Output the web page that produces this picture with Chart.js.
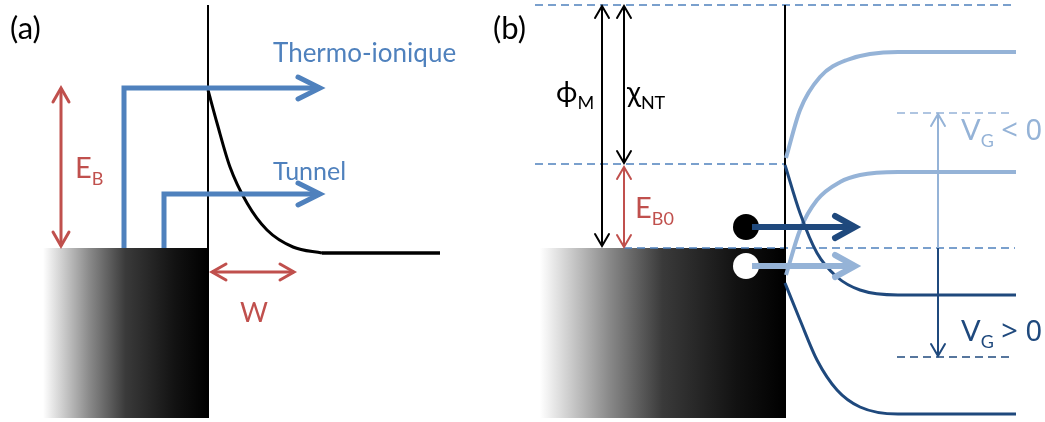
<!DOCTYPE html>
<html>
<head>
<meta charset="utf-8">
<script src="https://cdn.jsdelivr.net/npm/chart.js@4.4.1/dist/chart.umd.min.js"></script>
<style>
  html, body { margin: 0; padding: 0; background: #fff; }
  #wrap { width: 1045px; height: 422px; }
</style>
</head>
<body>
<div id="wrap"><canvas id="diagram" width="1045" height="422"></canvas></div>
<script>
const BLUE = "#4f81bd", RED = "#c0504d", DARK = "#1f497d", LIGHT = "#95b3d7";

// (a) thermo-ionic and tunnel emission
const interfaceA = [[208, 5], [208, 418]];
const metalA = [43, 248, 208, 418];
const barrierA = [[208, 90], [217, 123], [230, 167], [247, 203], [267, 230], [293, 247], [322, 253]];
const bandA = [[322, 253], [440, 253]];
const thermoPath = [[124, 248], [124, 88], [320, 88]];
const tunnelPath = [[164, 248], [164, 194], [320, 194]];
const ebArrow = [[61, 88], [61, 246]];
const wArrow = [[212, 272], [294, 272]];

// (b) band bending with gate voltage
const interfaceB = [[785, 5], [785, 418]];
const metalB = [540, 248, 785, 418];
const vacuumLevel = [[535, 5], [1015, 5]];
const chiLevel = [[535, 164], [785, 164]];
const fermiLevel = [[624, 248], [1015, 248]];
const vgNegLevel = [[897, 113], [1014, 113]];
const vgPosLevel = [[897, 357], [1014, 357]];
const phiArrow = [[602, 6], [602, 246]];
const chiArrow = [[624, 6], [624, 163]];
const eb0Arrow = [[624, 167], [624, 247]];
const lightTop = [[786, 158], [800, 110], [820, 77], [847, 60], [898, 52], [1016, 52]];
const lightBottom = [[786, 275], [800, 230], [817, 200], [840, 182], [860, 175], [898, 172], [1016, 172]];
const darkTop = [[785, 165], [800, 213], [817, 253], [837, 277], [860, 290], [898, 295], [1016, 295]];
const darkBottom = [[785, 283], [800, 320], [817, 360], [837, 390], [860, 407], [898, 414], [1016, 414]];
const electron = [[746, 227]];
const hole = [[746, 266]];
const electronArrow = [[752, 227], [855, 227]];
const holeArrow = [[752, 266], [855, 266]];
const vgUp = [[938, 248], [938, 114]];
const vgDown = [[938, 248], [938, 356]];

// text: [main, subscript, rest, x, y(baseline), colour, size]
const labels = [
  ["(a)", "", "", 10, 39, "#000", 31],
  ["Thermo-ionique", "", "", 273, 62, BLUE, 26],
  ["Tunnel", "", "", 273, 180, BLUE, 25],
  ["E", "B", "", 75, 178, RED, 29],
  ["W", "", "", 240, 322, RED, 27],
  ["(b)", "", "", 493, 39, "#000", 31],
  ["\u03D5", "M", "", 556, 102, "#000", 29],
  ["\u03C7", "NT", "", 627, 102, "#000", 29],
  ["E", "B0", "", 635, 218, RED, 29],
  ["V", "G", " < 0", 961, 140, LIGHT, 29],
  ["V", "G", " > 0", 961, 341, DARK, 29]
];

function pts(list) { return list.map(p => ({ x: p[0], y: p[1] })); }

function line(list, color, width, extra) {
  return Object.assign({
    data: pts(list), showLine: true, borderColor: color, borderWidth: width,
    pointRadius: 0, fill: false, tension: 0, borderJoinStyle: "miter", borderCapStyle: "butt"
  }, extra || {});
}

function head(tip, prev, back, half) {
  const dx = tip[0] - prev[0], dy = tip[1] - prev[1];
  const len = Math.hypot(dx, dy), ux = dx / len, uy = dy / len;
  return [[tip[0] - ux * back - uy * half, tip[1] - uy * back + ux * half], tip,
          [tip[0] - ux * back + uy * half, tip[1] - uy * back - ux * half]];
}

function arrow(path, color, width, back, half, both) {
  const n = path.length;
  const out = [line(path, color, width)];
  out.push(line(head(path[n - 1], path[n - 2], back, half), color, width, { borderCapStyle: "round" }));
  if (both) out.push(line(head(path[0], path[1], back, half), color, width, { borderCapStyle: "round" }));
  return out;
}

const dash = { borderDash: [8, 5] };
const curve = { cubicInterpolationMode: "monotone" };

const datasets = [
  line(vacuumLevel, BLUE, 1.3, dash),
  line(chiLevel, BLUE, 1.3, dash),
  line(fermiLevel, BLUE, 1.3, dash),
  line(vgNegLevel, LIGHT, 1.3, dash),
  line(vgPosLevel, DARK, 1.3, dash),
  line(interfaceA, "#000", 2),
  line(interfaceB, "#000", 2),
  line(barrierA, "#000", 3, curve),
  line(bandA, "#000", 3.5),
  ...arrow(thermoPath, BLUE, 5, 22, 11),
  ...arrow(tunnelPath, BLUE, 5, 22, 11),
  ...arrow(ebArrow, RED, 3, 14, 8, true),
  ...arrow(wArrow, RED, 3, 14, 8, true),
  ...arrow(phiArrow, "#000", 2, 12, 7, true),
  ...arrow(chiArrow, "#000", 2, 12, 7, true),
  ...arrow(eb0Arrow, RED, 2, 12, 7, true),
  line(lightTop, LIGHT, 4, curve),
  line(lightBottom, LIGHT, 4, curve),
  line(darkTop, DARK, 3, curve),
  line(darkBottom, DARK, 3, curve),
  ...arrow(vgUp, LIGHT, 2, 12, 7),
  ...arrow(vgDown, DARK, 2, 12, 7),
  { data: pts(electron), showLine: false, pointRadius: 13, pointBackgroundColor: "#000", pointBorderWidth: 0 },
  { data: pts(hole), showLine: false, pointRadius: 13, pointBackgroundColor: "#fff", pointBorderWidth: 0 },
  ...arrow(electronArrow, DARK, 6, 20, 11),
  ...arrow(holeArrow, LIGHT, 6, 20, 11)
];
datasets.forEach((d, i) => { d.order = datasets.length - i; d.clip = false; });

const metalPlugin = {
  id: "metal",
  beforeDatasetsDraw(chart) {
    const { ctx, scales: { x, y } } = chart;
    [metalA, metalB].forEach(b => {
      const x0 = x.getPixelForValue(b[0]), x1 = x.getPixelForValue(b[2]);
      const y0 = y.getPixelForValue(b[1]), y1 = y.getPixelForValue(b[3]);
      const g = ctx.createLinearGradient(x0, 0, x1, 0);
      g.addColorStop(0, "#ffffff");
      g.addColorStop(0.28, "#8a8a8a");
      g.addColorStop(0.5, "#3a3a3a");
      g.addColorStop(0.8, "#121212");
      g.addColorStop(1, "#000000");
      ctx.save();
      ctx.fillStyle = g;
      ctx.fillRect(x0, y0, x1 - x0, y1 - y0);
      ctx.restore();
    });
  }
};

const labelPlugin = {
  id: "labels",
  afterDatasetsDraw(chart) {
    const { ctx, scales: { x, y } } = chart;
    const fam = "Lato, 'Noto Sans', sans-serif";
    ctx.save();
    ctx.textBaseline = "alphabetic";
    labels.forEach(([main, sub, rest, lx, ly, color, size]) => {
      let px = x.getPixelForValue(lx);
      const py = y.getPixelForValue(ly);
      ctx.fillStyle = color;
      ctx.font = size + "px " + fam;
      ctx.fillText(main, px, py);
      px += ctx.measureText(main).width;
      if (sub) {
        ctx.font = Math.round(size * 0.62) + "px " + fam;
        ctx.fillText(sub, px, py + size * 0.24);
        px += ctx.measureText(sub).width;
      }
      if (rest) {
        ctx.font = size + "px 'Noto Sans', sans-serif";
        ctx.fillText(rest, px, py);
      }
    });
    ctx.restore();
  }
};

new Chart(document.getElementById("diagram").getContext("2d"), {
  type: "scatter",
  data: { datasets },
  options: {
    responsive: false,
    animation: false,
    events: [],
    layout: { padding: 0, autoPadding: false },
    plugins: { legend: { display: false }, tooltip: { enabled: false } },
    scales: {
      x: { type: "linear", min: 0, max: 1045, display: false },
      y: { type: "linear", min: 0, max: 422, reverse: true, display: false }
    }
  },
  plugins: [metalPlugin, labelPlugin]
});
</script>
</body>
</html>
